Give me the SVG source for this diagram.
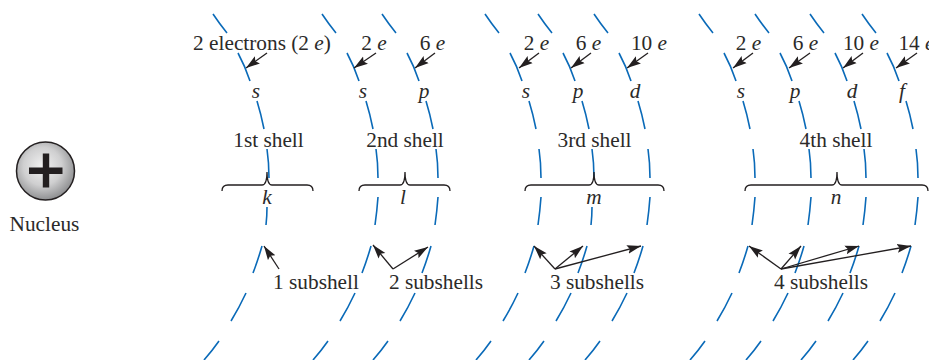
<svg xmlns="http://www.w3.org/2000/svg" width="929" height="360" viewBox="0 0 929 360">
<style>
text{font-family:"Liberation Serif","Times New Roman",serif;font-size:21.3px;fill:#2b2a29;text-anchor:middle}
.i{font-style:italic}
.arc{fill:none;stroke:#0a6ab8;stroke-width:1.6}
.ar{fill:none;stroke:#231f20;stroke-width:1.3;marker-end:url(#h)}
.br{fill:none;stroke:#231f20;stroke-width:1.3}
</style>
<defs>
<marker id="h" markerUnits="userSpaceOnUse" markerWidth="14" markerHeight="10" refX="14" refY="5" orient="auto"><path d="M0 0.6L14 5L0 9.4L2.5 5Z" fill="#231f20"/></marker>
<radialGradient id="g" cx="0.45" cy="0.42" r="0.6"><stop offset="0" stop-color="#f2f2f2"/><stop offset="0.55" stop-color="#cfcfd0"/><stop offset="1" stop-color="#8a8b8d"/></radialGradient>
<path id="c" class="arc" d="M213 14Q219 23 227 33M238 53Q245 66 250 81M257 101Q261 114 264 129M267 149Q269 163 269 178M262 246Q258 260 253 273M246 293Q239 308 231 321M219 341Q212 351 204 360"/>
<path id="u" class="arc" d="M269 197Q268 211 266 225"/>
<path id="v" class="arc" d="M267 207Q267 216 266 225"/>
</defs>
<g id="connectors">
<g id="shells">
<use href="#c"/><use href="#v"/>
<use href="#c" x="109"/><use href="#u" x="109"/>
<use href="#c" x="169"/><use href="#u" x="169"/>
<use href="#c" x="272"/><use href="#u" x="272"/>
<use href="#c" x="325"/><use href="#v" x="325"/>
<use href="#c" x="381"/><use href="#u" x="381"/>
<use href="#c" x="486"/><use href="#u" x="486"/>
<use href="#c" x="542"/><use href="#u" x="542"/>
<use href="#c" x="597"/><use href="#u" x="597"/>
<use href="#c" x="649"/><use href="#u" x="649"/>
</g>
<g id="electron-arrows">
<path class="ar" d="M267 53L246 68"/><path class="ar" d="M376 53L354 68"/><path class="ar" d="M435 53L415 68"/>
<path class="ar" d="M539 53L519 68"/><path class="ar" d="M591 53L571 68"/><path class="ar" d="M648 53L627 68"/>
<path class="ar" d="M753 53L733 68"/><path class="ar" d="M810 53L789 68"/><path class="ar" d="M863 53L843 68"/><path class="ar" d="M917 53L896 68"/>
</g>
<g id="subshell-arrows">
<path class="ar" d="M279 269L264 246"/>
<path class="ar" d="M393 269L373 245"/><path class="ar" d="M393 269L428 247"/>
<path class="ar" d="M555 269L534 246"/><path class="ar" d="M555 269L583 246"/><path class="ar" d="M555 269L641 246"/>
<path class="ar" d="M781 269L749 246"/><path class="ar" d="M781 269L801 246"/><path class="ar" d="M781 269L859 246"/><path class="ar" d="M781 269L911 246"/>
</g>
<g id="braces">
<path class="br" d="M222 191Q222 185 228 185L262 185Q267 185 267 172Q267 185 272 185L307 185Q313 185 313 191"/>
<path class="br" d="M359 191Q359 185 365 185L400 185Q405 185 405 172Q405 185 410 185L444 185Q450 185 450 191"/>
<path class="br" d="M525 191Q525 185 531 185L589 185Q594 185 594 172Q594 185 599 185L658 185Q664 185 664 191"/>
<path class="br" d="M745 191Q745 185 751 185L832 185Q837 185 837 172Q837 185 842 185L922 185Q928 185 928 191"/>
</g>
</g>
<g id="nucleus">
<circle cx="45.500" cy="171" r="29" fill="url(#g)" stroke="#231f20" stroke-width="1.500"/>
<path d="M42.800 153.500h6.400v14h13.300v6.400h-13.300v13.600h-6.400v-13.600h-13.800v-6.400h13.800z" fill="#231f20"/>
<text x="44.500" y="231">Nucleus</text>
</g>
<g id="labels">
<text x="262" y="50">2 electrons (2 <tspan class="i">e</tspan>)</text>
<text x="374" y="50">2 <tspan class="i">e</tspan></text><text x="432.500" y="50">6 <tspan class="i">e</tspan></text>
<text x="536.500" y="50">2 <tspan class="i">e</tspan></text><text x="588.500" y="50">6 <tspan class="i">e</tspan></text><text x="649" y="50">10 <tspan class="i">e</tspan></text>
<text x="748.500" y="50">2 <tspan class="i">e</tspan></text><text x="805.500" y="50">6 <tspan class="i">e</tspan></text><text x="861" y="50">10 <tspan class="i">e</tspan></text><text x="916.500" y="50">14 <tspan class="i">e</tspan></text>
<text class="i" x="256" y="98">s</text><text class="i" x="363" y="98">s</text><text class="i" x="424" y="98">p</text>
<text class="i" x="526" y="98">s</text><text class="i" x="578" y="98">p</text><text class="i" x="635" y="98">d</text>
<text class="i" x="741" y="98">s</text><text class="i" x="795" y="98">p</text><text class="i" x="852" y="98">d</text><text class="i" x="902" y="98">f</text>
<text x="268.500" y="147">1st shell</text><text x="405" y="147">2nd shell</text><text x="594.500" y="147">3rd shell</text><text x="836" y="147">4th shell</text>
<text class="i" x="267" y="204">k</text><text class="i" x="403" y="204">l</text><text class="i" x="594" y="204">m</text><text class="i" x="836" y="204">n</text>
<text x="316" y="289">1 subshell</text><text x="436" y="289">2 subshells</text><text x="597" y="289">3 subshells</text><text x="821" y="289">4 subshells</text>
</g>
</svg>
